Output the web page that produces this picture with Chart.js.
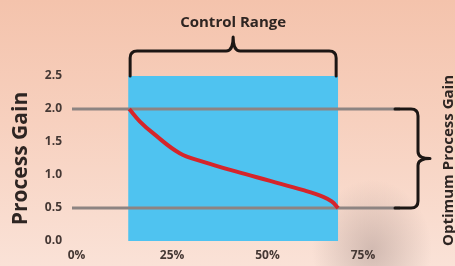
<!DOCTYPE html>
<html>
<head>
<meta charset="utf-8">
<script src="https://cdn.jsdelivr.net/npm/chart.js@4.4.1/dist/chart.umd.min.js"></script>
<style>
  html, body { margin: 0; padding: 0; }
  body {
    width: 455px; height: 266px; overflow: hidden;
    background:
      radial-gradient(ellipse 60px 70px at 372px 250px, rgba(170,148,142,0.5), rgba(170,148,142,0)),
      linear-gradient(to bottom, #f4c3ac 0%, #f7d0be 45%, #fae2d7 100%);
  }
  #chart { display: block; }
</style>
</head>
<body>
<canvas id="chart" width="455" height="266"></canvas>
<script>
// Process gain vs. valve position
const xTicks = [0, 25, 50, 75];
const yTicks = [0, 0.5, 1.0, 1.5, 2.0, 2.5];
const curveX = [13.8, 16.6, 20.1, 27, 33.2, 41.9, 50.7, 59.4, 64.6, 66.8, 68.5];
const curveY = [2.0, 1.81, 1.63, 1.33, 1.20, 1.05, 0.91, 0.77, 0.67, 0.60, 0.50];
const controlRange = [13.5, 68.5];
const optimumGain = [0.5, 2.0];
const xRange = [-1.2, 84.7];

const FONT = "'Open Sans', 'DejaVu Sans', sans-serif";
const INK = '#2e2522';

const brackets = {
  id: 'brackets',
  afterDatasetsDraw(chart) {
    const {ctx, chartArea, scales: {x, y}} = chart;
    ctx.save();
    ctx.strokeStyle = '#1c1614';
    ctx.lineWidth = 3;
    ctx.lineCap = 'round';
    ctx.lineJoin = 'round';
    const r = 7;

    // top bracket over control range
    const x1 = x.getPixelForValue(controlRange[0]) + 2;
    const x2 = x.getPixelForValue(controlRange[1]) - 2;
    const xc = (x1 + x2) / 2;
    const yb = y.getPixelForValue(2.5);
    const ym = yb - 25;
    const yt = ym - 14;
    ctx.beginPath();
    ctx.moveTo(x1, yb);
    ctx.lineTo(x1, ym + r);
    ctx.quadraticCurveTo(x1, ym, x1 + r, ym);
    ctx.lineTo(xc - r, ym);
    ctx.quadraticCurveTo(xc, ym, xc, yt);
    ctx.quadraticCurveTo(xc, ym, xc + r, ym);
    ctx.lineTo(x2 - r, ym);
    ctx.quadraticCurveTo(x2, ym, x2, ym + r);
    ctx.lineTo(x2, yb);
    ctx.stroke();

    ctx.fillStyle = INK;
    ctx.font = 'bold 15px ' + FONT;
    ctx.textAlign = 'center';
    ctx.textBaseline = 'middle';
    ctx.fillText('Control Range', xc, yt - 14);

    // right bracket over optimum gain
    const ya = y.getPixelForValue(optimumGain[1]);
    const yz = y.getPixelForValue(optimumGain[0]);
    const yc = (ya + yz) / 2;
    const xs = chartArea.right - 5;
    const xv = chartArea.right + 18;
    const xtip = xv + 12;
    ctx.beginPath();
    ctx.moveTo(xs, ya);
    ctx.lineTo(xv - r, ya);
    ctx.quadraticCurveTo(xv, ya, xv, ya + r);
    ctx.lineTo(xv, yc - r);
    ctx.quadraticCurveTo(xv, yc, xtip, yc);
    ctx.quadraticCurveTo(xv, yc, xv, yc + r);
    ctx.lineTo(xv, yz - r);
    ctx.quadraticCurveTo(xv, yz, xv - r, yz);
    ctx.lineTo(xs, yz);
    ctx.stroke();

    ctx.translate(449, yc + 2);
    ctx.rotate(-Math.PI / 2);
    ctx.font = 'bold 15px ' + FONT;
    ctx.fillText('Optimum Process Gain', 0, 0);
    ctx.restore();
  }
};

const hLine = (v) => ({
  data: [{x: xRange[0], y: v}, {x: xRange[1], y: v}],
  borderColor: '#8d8482',
  borderWidth: 3,
  pointRadius: 0,
  tension: 0,
  order: 1
});

new Chart(document.getElementById('chart'), {
  type: 'line',
  data: {
    datasets: [
      {
        data: curveX.map((v, i) => ({x: v, y: curveY[i]})),
        borderColor: '#d5252b',
        borderWidth: 4,
        pointRadius: 0,
        tension: 0.4,
        order: 0
      },
      hLine(optimumGain[1]),
      hLine(optimumGain[0]),
      {
        data: [{x: controlRange[0], y: 2.5}, {x: controlRange[1], y: 2.5}],
        borderWidth: 0,
        pointRadius: 0,
        fill: 'origin',
        backgroundColor: '#4fc3f0',
        order: 2
      }
    ]
  },
  options: {
    responsive: false,
    animation: false,
    layout: { padding: { top: 76, right: 55, left: 0, bottom: 0 } },
    plugins: { legend: { display: false }, tooltip: { enabled: false } },
    scales: {
      x: {
        type: 'linear',
        min: xRange[0],
        max: xRange[1],
        grid: { display: false, drawTicks: false },
        border: { display: false },
        afterBuildTicks: (axis) => { axis.ticks = xTicks.map(v => ({value: v})); },
        afterFit: (axis) => { axis.height = 25; },
        ticks: {
          callback: (v) => v + '%',
          font: { family: FONT, weight: 'bold', size: 12 },
          color: '#453834',
          padding: 7,
          maxRotation: 0,
          autoSkip: false
        }
      },
      y: {
        min: 0,
        max: 2.5,
        grid: { display: false, drawTicks: false },
        border: { display: false },
        afterBuildTicks: (axis) => { axis.ticks = yTicks.map(v => ({value: v})); },
        afterFit: (axis) => { axis.width = 72; },
        ticks: {
          callback: (v) => v.toFixed(1),
          font: { family: FONT, weight: 'bold', size: 12 },
          color: '#453834',
          padding: 10
        },
        title: {
          display: true,
          text: 'Process Gain',
          font: { family: FONT, weight: 'bold', size: 21 },
          color: INK,
          padding: { top: 8, bottom: 0 }
        }
      }
    }
  },
  plugins: [brackets]
});
</script>
</body>
</html>
